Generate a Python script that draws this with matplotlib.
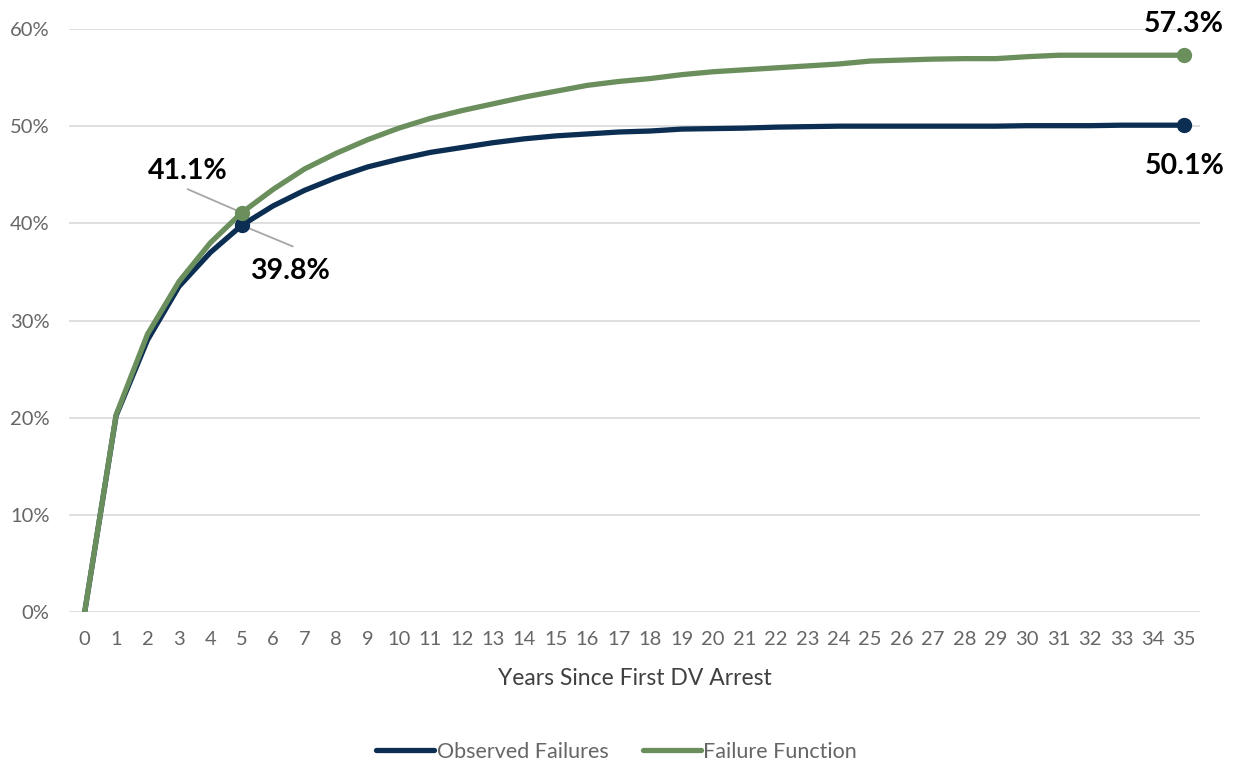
import matplotlib
matplotlib.use("Agg")
import matplotlib.pyplot as plt
from matplotlib.ticker import FuncFormatter

plt.rcParams['font.family'] = ['Lato', 'DejaVu Sans']

years = list(range(36))
observed = [0.0, 20.2, 28.0, 33.5, 37.0, 39.8, 41.8, 43.4, 44.7, 45.8,
            46.6, 47.3, 47.8, 48.3, 48.7, 49.0, 49.2, 49.4, 49.5, 49.7,
            49.75, 49.8, 49.9, 49.95, 50.0, 50.0, 50.0, 50.0, 50.0, 50.0,
            50.05, 50.05, 50.05, 50.1, 50.1, 50.1]
failure_fn = [0.0, 20.3, 28.6, 34.0, 38.0, 41.1, 43.5, 45.6, 47.2, 48.6,
              49.8, 50.8, 51.6, 52.3, 53.0, 53.6, 54.2, 54.6, 54.9, 55.3,
              55.6, 55.8, 56.0, 56.2, 56.4, 56.7, 56.8, 56.9, 56.95, 56.95,
              57.15, 57.3, 57.3, 57.3, 57.3, 57.3]
series_names = ["Observed Failures", "Failure Function"]
y_ticks = [0, 10, 20, 30, 40, 50, 60]

navy = "#0B2E52"
green = "#6A8F5C"
grid_c = "#D9D9D9"
tick_c = "#666666"

fig = plt.figure(figsize=(12.33, 7.64), dpi=100)
ax = fig.add_axes([69 / 1233, 1 - 612 / 764, (1200 - 69) / 1233, (612 - 29) / 764])

ax.plot(years, observed, color=navy, lw=3.8, solid_capstyle='round',
        solid_joinstyle='round', label=series_names[0], zorder=3)
ax.plot(years, failure_fn, color=green, lw=3.8, solid_capstyle='round',
        solid_joinstyle='round', label=series_names[1], zorder=4)

# highlighted points
for i in (5, 35):
    ax.plot(years[i], observed[i], 'o', color=navy, ms=10, zorder=5)
    ax.plot(years[i], failure_fn[i], 'o', color=green, ms=10, zorder=6)

lbl = dict(fontsize=20.5, fontweight='bold', color='black', ha='center', va='center')
leader = dict(arrowstyle='-', color='#A6A6A6', lw=1.3, shrinkA=0, shrinkB=0)
# year-5 labels with leader lines
ax.annotate(f"{failure_fn[5]:.1f}%", xy=(years[5], failure_fn[5]),
            xytext=(-39, 30), textcoords='offset points',
            arrowprops=dict(relpos=(0.5, -0.2), **leader), **lbl)
ax.annotate(f"{observed[5]:.1f}%", xy=(years[5], observed[5]),
            xytext=(35, -33), textcoords='offset points',
            arrowprops=dict(relpos=(0.53, 1.45), **leader), **lbl)
# end labels
ax.text(years[35], failure_fn[35] + 3.2, f"{failure_fn[35]:.1f}%", clip_on=False, **lbl)
ax.text(years[35], observed[35] - 4.2, f"{observed[35]:.1f}%", clip_on=False, **lbl)

ax.set_xlim(-0.5, 35.5)
ax.set_ylim(0, 60)
ax.set_yticks(y_ticks)
ax.yaxis.set_major_formatter(FuncFormatter(lambda v, p: f"{v:.0f}%"))
ax.set_xticks(years)
ax.set_xticklabels([str(y) for y in years])
ax.grid(axis='y', color=grid_c, lw=1.2)
ax.set_axisbelow(True)
for s in ax.spines.values():
    s.set_visible(False)
ax.tick_params(axis='both', length=0, labelsize=14.5, colors=tick_c)
ax.tick_params(axis='x', pad=14)
ax.tick_params(axis='y', pad=14)
ax.set_xlabel("Years Since First DV Arrest", fontsize=16.5, color='#404040', labelpad=14)

leg = fig.legend(loc='center', bbox_to_anchor=(0.5, 1 - 752 / 764), ncol=2,
                 frameon=False, fontsize=15.5, handlelength=2.7, handletextpad=0.1,
                 columnspacing=1.6)
for t in leg.get_texts():
    t.set_color(tick_c)

fig.savefig("out.png", dpi=100)
